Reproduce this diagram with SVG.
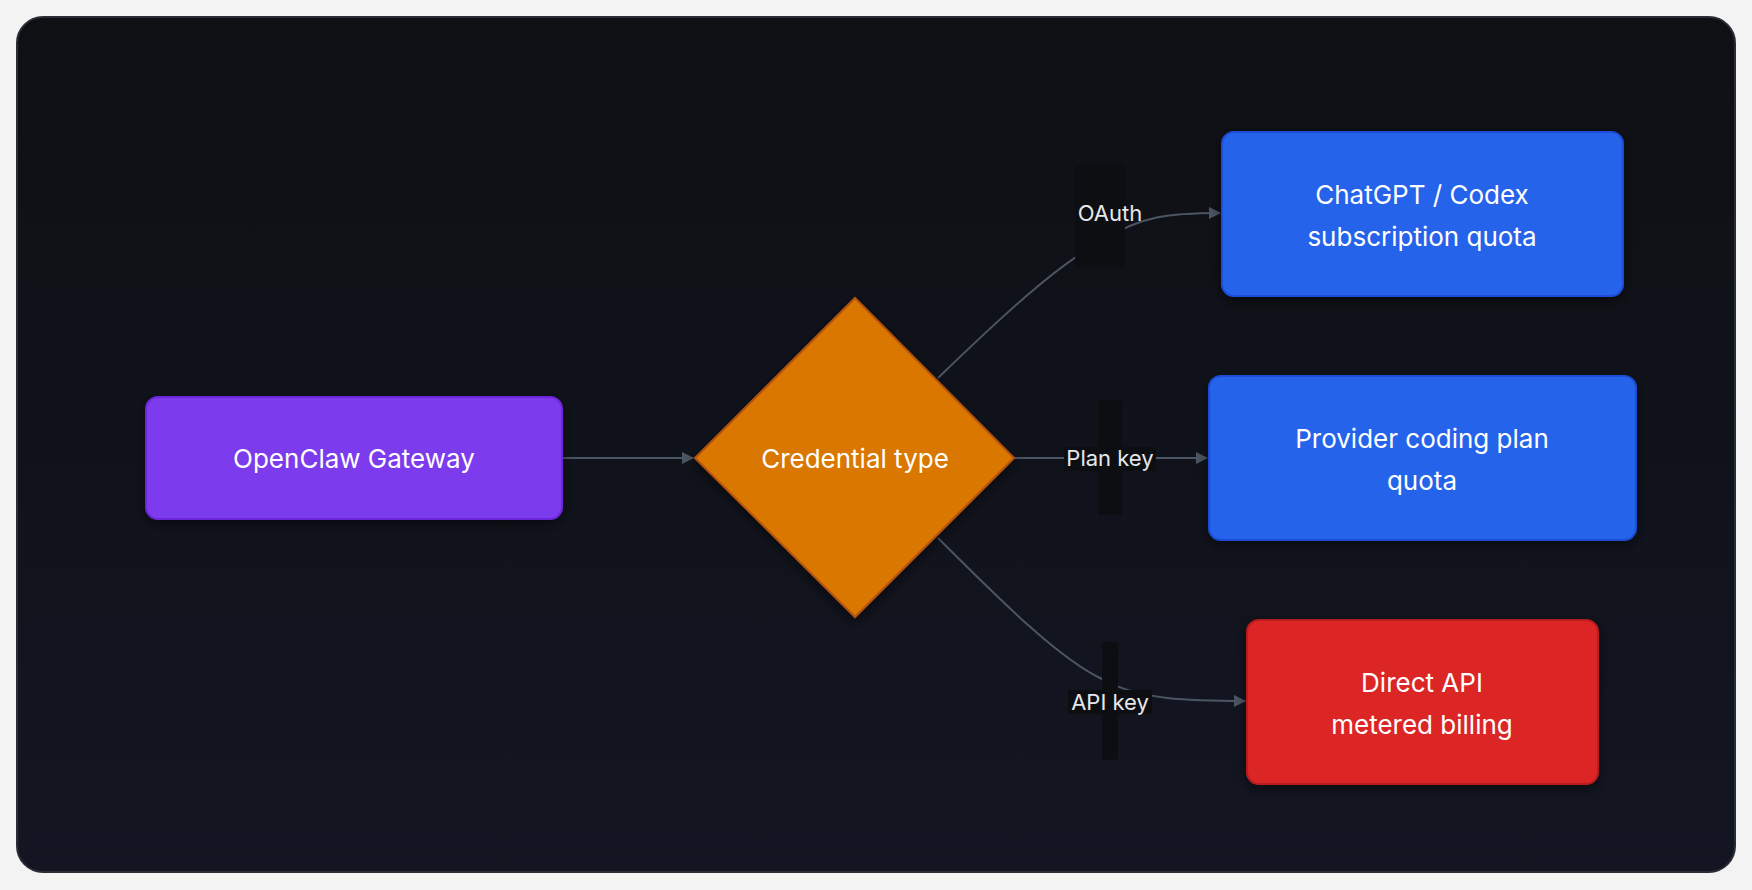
<svg xmlns="http://www.w3.org/2000/svg" width="1752" height="890" viewBox="0 0 1752 890">
<defs>
<linearGradient id="bg" x1="0" y1="0" x2="0" y2="1"><stop offset="0" stop-color="#0e1014"/><stop offset="1" stop-color="#131522"/></linearGradient>
<marker id="ar" markerWidth="12" markerHeight="12" refX="11" refY="6" orient="auto" markerUnits="userSpaceOnUse"><path d="M0,0 L12,6 L0,12 Z" fill="#4b5563"/></marker>
<filter id="sh" x="-20%" y="-20%" width="140%" height="150%"><feDropShadow dx="0" dy="4" stdDeviation="6" flood-color="#000" flood-opacity="0.5"/></filter>
<style>
.t{font-family:Inter,"Noto Sans",sans-serif;font-size:26px;fill:#ffffff;text-anchor:middle;dominant-baseline:central}
.l{font-family:Inter,"Noto Sans",sans-serif;font-size:22px;fill:#e5e7eb;text-anchor:middle;dominant-baseline:central}
.e{fill:none;stroke:#4b5563;stroke-width:2}
.lb{fill:#0d0e12}
</style>
</defs>
<rect x="0" y="0" width="1752" height="890" fill="#f3f3f3"/>
<rect x="17" y="17" width="1718" height="855" rx="26" fill="url(#bg)" stroke="#2a2d36" stroke-width="2"/>
<g id="edges">
<path class="e" d="M562,458 L693,458" marker-end="url(#ar)"/>
<path class="e" d="M938,378 C1000,318 1060,262 1104,240 C1140,216 1170,213 1220,213" marker-end="url(#ar)"/>
<path class="e" d="M1014,458 L1207,458" marker-end="url(#ar)"/>
<path class="e" d="M938,538 C1000,600 1060,660 1104,680 C1140,700 1190,701 1245,701" marker-end="url(#ar)"/>
</g>
<g id="labels">
<rect class="lb" x="1075" y="165" width="50" height="102"/>
<text class="l" x="1110" y="213">OAuth</text>
<rect class="lb" x="1098" y="400" width="24" height="115"/>
<rect class="lb" x="1064" y="447" width="92" height="24"/>
<text class="l" x="1110" y="458">Plan key</text>
<rect class="lb" x="1102" y="642" width="16" height="118"/>
<rect class="lb" x="1068" y="690" width="84" height="24"/>
<text class="l" x="1110" y="702">API key</text>
</g>
<g id="gateway"><rect x="146" y="397" width="416" height="122" rx="12" fill="#7c3aed" stroke="#6d28d9" stroke-width="2" filter="url(#sh)"/><text class="t" x="354" y="458">OpenClaw Gateway</text></g>
<g id="credential"><path d="M855,298 L1014,458 L855,617 L695,458 Z" fill="#d97706" stroke="#b45309" stroke-width="2" filter="url(#sh)"/><text class="t" x="855" y="458">Credential type</text></g>
<g id="chatgpt"><rect x="1222" y="132" width="401" height="164" rx="12" fill="#2563eb" stroke="#1d4ed8" stroke-width="2" filter="url(#sh)"/><text class="t" x="1422" y="194">ChatGPT / Codex</text><text class="t" x="1422" y="236">subscription quota</text></g>
<g id="provider"><rect x="1209" y="376" width="427" height="164" rx="12" fill="#2563eb" stroke="#1d4ed8" stroke-width="2" filter="url(#sh)"/><text class="t" x="1422" y="438">Provider coding plan</text><text class="t" x="1422" y="480">quota</text></g>
<g id="direct"><rect x="1247" y="620" width="351" height="164" rx="12" fill="#dc2626" stroke="#b91c1c" stroke-width="2" filter="url(#sh)"/><text class="t" x="1422" y="682">Direct API</text><text class="t" x="1422" y="724">metered billing</text></g>
</svg>
